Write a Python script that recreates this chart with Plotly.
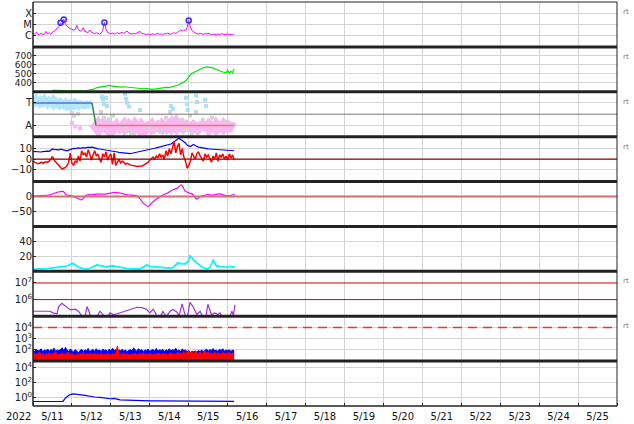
import plotly.graph_objects as go
from plotly.subplots import make_subplots

# ---------------- data (hours since 2022-05-11 00:00 UT) ----------------
day_labels = ["5/11", "5/12", "5/13", "5/14", "5/15", "5/16", "5/17", "5/18",
              "5/19", "5/20", "5/21", "5/22", "5/23", "5/24", "5/25"]

# Panel 1: X-ray flux, log10 (W/m^2), hourly from h0
xray_log = [
    -5.90, -5.85, -5.70, -5.88, -5.92, -5.78, -5.90, -5.86, -5.62, -5.85,
    -5.74, -5.88, -5.70, -5.60, -5.50, -5.30, -5.20, -4.85, -5.05, -4.55,
    -4.95, -5.15, -5.30, -5.35, -5.42, -5.50, -5.45, -5.08, -5.48, -5.60,
    -5.55, -5.30, -5.62, -5.66, -5.72, -5.50, -5.70, -5.76, -5.82, -5.74,
    -5.80, -5.86, -5.78, -5.55, -4.82, -5.45, -5.72, -5.80, -5.84, -5.78,
    -5.86, -5.80, -5.74, -5.82, -5.78, -5.70, -5.80, -5.72, -5.58, -5.74,
    -5.82, -5.86, -5.80, -5.84, -5.76, -5.72, -5.62, -5.78, -5.84, -5.88,
    -5.90, -5.86, -5.92, -5.88, -5.84, -5.90, -5.86, -5.80, -5.88, -5.84,
    -5.90, -5.82, -5.86, -5.78, -5.84, -5.88, -5.80, -5.74, -5.82, -5.70,
    -5.62, -5.50, -5.60, -5.45, -5.58, -5.30, -4.64, -5.25, -5.55, -5.68,
    -5.76, -5.82, -5.86, -5.80, -5.84, -5.88, -5.82, -5.86, -5.78, -5.84,
    -5.90, -5.86, -5.88, -5.92, -5.86, -5.90, -5.84, -5.88, -5.92, -5.90,
    -5.86, -5.90, -5.88, -5.92, -5.90]
flare_h = [17, 19, 44, 96]
flare_log = [-4.85, -4.55, -4.82, -4.64]

# Panel 2: solar wind speed (km/s)
speed_h = [12, 14, 15, 17, 19, 21, 24, 27, 30, 33,
           35, 37, 39, 41, 43, 45, 47, 48, 50, 52,
           54, 56, 58, 60, 62, 64, 66, 68, 70, 72,
           74, 76, 78, 80, 82, 84, 86, 88, 89, 90,
           92, 94, 95, 96, 97, 99, 101, 103, 105, 107,
           109, 111, 113, 115, 117, 119, 120, 121, 122, 123, 124]
speed = [318, 315, 320, 312, 314, 310, 312, 308, 311, 314,
         318, 326, 344, 352, 356, 362, 372, 366, 360, 356,
         352, 356, 352, 346, 340, 336, 330, 334, 336, 330,
         326, 332, 340, 345, 350, 346, 356, 362, 372, 382,
         400, 420, 440, 470, 490, 515, 535, 555, 568, 578,
         575, 566, 548, 532, 520, 512, 540, 505, 530, 510, 558]

# Panel 3: IMF sector (T = +0.5, A = -0.5)
toward_band = [0.62, 0.55, 0.66, 0.58, 0.50, 0.60, 0.54, 0.64, 0.56, 0.48,
               0.58, 0.52, 0.60, 0.46, 0.55, 0.50, 0.42, 0.52, 0.45, 0.40,
               0.48, 0.38, 0.44, 0.36, 0.46, 0.40, 0.50, 0.44, 0.38, 0.46,
               0.42, 0.48, 0.40, 0.44, 0.38, 0.42, 0.40]
away_start_h = 37
away_band = [-0.40, -0.50, -0.58, -0.48, -0.62, -0.52, -0.45, -0.60, -0.55, -0.66,
             -0.50, -0.58, -0.44, -0.62, -0.54, -0.68, -0.50, -0.60, -0.56, -0.48,
             -0.62, -0.55, -0.70, -0.52, -0.58, -0.64, -0.50, -0.60, -0.56, -0.66,
             -0.52, -0.60, -0.48, -0.62, -0.55, -0.58, -0.50, -0.64, -0.56, -0.60,
             -0.52, -0.58, -0.62, -0.48, -0.56, -0.60, -0.50, -0.45, -0.55, -0.42,
             -0.50, -0.40, -0.55, -0.46, -0.52, -0.58, -0.44, -0.62, -0.50, -0.56,
             -0.48, -0.60, -0.52, -0.58, -0.46, -0.62, -0.54, -0.50, -0.60, -0.56,
             -0.52, -0.62, -0.48, -0.58, -0.55, -0.64, -0.50, -0.60, -0.54, -0.58,
             -0.50, -0.62, -0.56, -0.52, -0.60, -0.55, -0.58, -0.62]
toward_dots_h = [42.5, 43.2, 43.8, 45, 45.6, 56.7, 57.3, 58, 59.2, 66, 85, 86.3,
                 94.3, 94.9, 95.5, 100.5, 101.1, 106, 106.7]
toward_dots_v = [0.78, 0.64, 0.46, 0.73, 0.37, 0.91, 0.69, 0.51, 0.33, 0.19, 0.37, 0.24,
                 0.73, 0.46, 0.19, 0.82, 0.55, 0.64, 0.37]
gray_dots_h = [24, 25.3, 27.7, 41.9, 43.8, 47.5, 49.3, 56.1, 58, 60.4, 72.1, 78.3,
               82, 84.5, 91.9, 94.3, 96.8, 98, 100.5, 104.8, 110.4, 119]
gray_dots_v = [0.06, -0.07, 0.02, 0.10, -0.16, -0.25, -0.07, -0.52, -0.74, -0.88, -0.61, -0.79,
               -0.16, 0.10, -0.25, -0.70, -0.07, -0.88, 0.10, -0.25, -0.16, -0.34]
away_dots_h = [24, 26, 29]
away_dots_v = [-0.39, -0.55, -0.62]
sector_h = [0, 36.4, 38.8, 124]
sector_v = [0.5, 0.5, -0.5, -0.5]

# Panel 4: IMF Bt (blue) and Bz (red), nT, hourly
bt = [7.4, 7.2, 7.0, 7.3, 7.0, 6.8, 7.2, 7.5, 7.3, 7.6,
      7.5, 8.5, 9.7, 9.4, 9.0, 9.2, 8.8, 9.5, 9.0, 8.6,
      8.2, 8.0, 8.6, 9.2, 9.8, 10.2, 10.0, 10.5, 10.7, 10.3,
      10.8, 11.0, 10.6, 11.2, 11.5, 11.0, 11.5, 11.2, 10.5, 10.0,
      9.8, 9.7, 9.5, 9.2, 8.8, 8.5, 8.2, 8.0, 7.8, 7.6,
      7.3, 7.0, 6.8, 6.5, 6.3, 6.0, 5.8, 5.6, 5.5, 5.4,
      5.3, 5.6, 5.9, 6.3, 6.6, 6.8, 7.0, 7.4, 7.8, 8.2,
      8.6, 8.8, 9.0, 9.5, 10.0, 10.4, 10.8, 11.2, 11.6, 12.0,
      12.4, 12.8, 13.2, 13.5, 13.8, 14.5, 15.5, 17.0, 18.0, 19.0,
      20.0, 19.0, 17.5, 16.5, 15.5, 13.5, 12.5, 12.0, 13.0, 14.0,
      13.0, 12.0, 11.5, 11.2, 10.8, 10.5, 10.2, 10.0, 9.8, 9.7,
      9.6, 9.5, 9.3, 9.2, 9.1, 9.0, 8.8, 8.9, 8.6, 8.7,
      8.5, 8.4, 8.3, 8.2, 8.0]
bz = [-2, -3, -4, -4.5, -4, -3, -4, -3, -2.5, -3,
      -2, 0, 2.5, -1, -3, -5, -7, -8, -9.5, -9,
      -8, -6, -3, 5.8, -4, -6, -2, -3, 3, -2,
      8, 4, 6, 2, 9, 5, -1, 4, 8, 3,
      5, 0, -3, 5, 2, 7, -1, 3, 5, -5,
      6, -6, -2, 0, -4, -2, -3, -5, -4, -5,
      -5.5, -6, -6, -6.5, -7, -7, -7, -6.5, -6, -5,
      -4, -3, -1, 1, 2, 0, 3, 1, 5, 2,
      4, 0, 8, 3, 10, 5, 12, 17, 6, 12,
      15, 4, 10, 2, -2, -8.6, -6, -2, 6, 3,
      0, 5, 7, 3, 0, -2, 5, 2, 4, 0,
      -3, 3, 0, 6, -2, 4, 2, 5, 0, 3,
      -1, 5, 1, 4, -1]

# Panel 5: Dst-like index (nT)
dst_h = [0, 5, 10.5, 14.8, 18.5, 20.5, 24, 27, 30, 33,
         36, 39.5, 45.6, 50.5, 54, 58, 64, 66, 68, 71,
         74, 77, 80, 83, 86, 89, 91.6, 93.7, 96.8, 98.6,
         101, 103, 107, 111, 115, 119.6, 123.3, 124.5]
dst = [2, 3, 6, 14, 17, 6, 2, -5, -11, 5,
       6, 8, 9, 14, 11, 6, 2, -8, -22, -33,
       -17, -5, 5, 12, 22, 28, 39, 19, 11, 6,
       -9, 0, 6, 5, 9, 2, 6, 5]

# Panel 6: proton density (/cc), two channels
dens_h = [0, 3, 6, 9, 12, 15, 18.5, 21, 22.8, 24,
          25.5, 27, 29, 31, 33, 35, 37, 39.5, 41, 43,
          45.6, 47, 49, 51, 54, 56, 58, 62, 66, 68,
          70, 72, 74, 76, 79, 82.6, 86, 87.5, 89, 91,
          93, 94, 95.5, 96.8, 98, 99, 101, 103, 105, 107,
          109, 111, 112, 113, 115, 117.6, 119.5, 121.4, 123.3, 124.5]
dens_a = [3.1, 3.5, 3.0, 3.8, 4.9, 5.5, 6.2, 7.5, 9.3, 11.6,
          10, 8, 4.9, 4.2, 3.6, 4.5, 6.5, 9.3, 8, 7,
          6.2, 7.5, 8, 7, 5.8, 5, 4, 3.8, 3.6, 6,
          9.3, 7, 6.5, 6.2, 5.5, 4.9, 4.9, 8, 11.6, 11,
          10.5, 10.7, 14, 21.3, 19, 16, 12, 8, 5, 3.6,
          5, 16, 12, 8, 7, 6.2, 5.5, 7, 6.2, 6.8]
dens_b = [2.6, 3.0, 2.7, 3.2, 4.2, 5.0, 5.6, 6.8, 8.4, 10.2,
          9.0, 7.0, 4.2, 3.6, 3.1, 3.9, 5.8, 8.2, 7.2, 6.2,
          5.4, 6.6, 7.0, 6.2, 5.0, 4.4, 3.5, 3.2, 3.1, 5.2,
          8.2, 6.2, 5.6, 5.4, 4.8, 4.2, 4.2, 7.0, 10.4, 9.8,
          9.4, 9.5, 12.5, 19.0, 17.2, 14.5, 10.8, 7.0, 4.4, 3.1,
          4.4, 14.4, 10.6, 7.0, 6.2, 5.4, 4.8, 6.2, 5.4, 6.0]

# Panel 7: >2 MeV electron flux, log10
elec_h = [0, 4, 8, 10.5, 12.3, 14.8, 15.8, 17.8, 19.9, 21.5,
          23, 26, 28, 30, 31.5, 32.3, 33.3, 34.5, 36, 39,
          41.3, 43.5, 45.5, 47.5, 49.5, 52, 53.6, 56, 58, 60,
          62, 64, 67, 70, 72, 74, 75.5, 76.4, 78.5, 80,
          82, 82.6, 84.5, 86.3, 88.8, 90, 91.9, 93.7, 95, 96.8,
          98.6, 101, 103, 105, 106.5, 107.8, 110, 112, 114, 115.3,
          117, 121, 122.6, 123.5, 124.5]
elec_log = [5.30, 5.28, 5.30, 5.30, 5.20, 5.14, 5.58, 5.78, 5.62, 5.50,
            5.38, 5.42, 5.30, 5.04, 4.80, 5.10, 5.58, 5.30, 4.80, 4.90,
            5.30, 5.05, 4.90, 5.20, 5.10, 5.15, 5.20, 5.25, 5.35, 5.42,
            5.48, 5.54, 5.52, 5.42, 5.20, 5.42, 5.20, 4.90, 4.90, 5.30,
            5.00, 5.04, 5.30, 5.40, 5.24, 5.00, 5.74, 5.10, 4.90, 5.84,
            5.58, 5.10, 5.30, 4.90, 4.90, 5.72, 5.10, 5.20, 5.10, 5.20,
            4.90, 4.90, 5.30, 5.05, 5.68]

# Panel 8: proton flux, log10, hourly
prot_blue = [1.98, 1.85, 2.05, 1.90, 1.95, 2.10, 1.82, 2.00, 1.90, 2.08,
             1.88, 2.02, 1.95, 2.15, 1.85, 2.00, 1.92, 2.05, 2.18, 1.90,
             2.22, 2.00, 1.85, 2.08, 1.95, 1.80, 2.02, 1.88, 1.75, 1.95,
             2.05, 1.85, 2.00, 1.92, 2.12, 1.82, 1.98, 2.02, 1.88, 2.10,
             1.90, 2.00, 1.85, 2.05, 1.95, 2.00, 1.84, 2.08, 1.90, 2.15,
             1.95, 2.02, 1.85, 2.00, 1.92, 2.05, 1.88, 2.00, 1.82, 1.96,
             2.02, 1.90, 2.18, 2.00, 1.88, 2.10, 1.95, 2.02, 1.85, 2.00,
             1.92, 2.08, 1.85, 1.98, 2.02, 1.90, 2.12, 1.88, 2.00, 1.95,
             2.05, 1.86, 2.00, 1.92, 2.10, 1.88, 2.02, 1.95, 2.15, 1.90,
             2.00, 1.85, 2.08, 1.95, 2.00, 1.82, 1.95, 1.78, 1.88, 1.84,
             1.90, 1.80, 1.95, 1.85, 2.00, 1.82, 1.92, 2.08, 1.88, 2.02,
             1.95, 2.12, 1.90, 2.00, 1.85, 2.05, 1.95, 2.10, 1.88, 2.00,
             1.92, 2.02, 1.85, 2.00, 1.90]
prot_red = [1.62, 1.72, 1.55, 1.68, 1.80, 1.58, 1.70, 1.50, 1.66, 1.60,
            1.74, 1.56, 1.68, 1.62, 1.85, 1.52, 1.66, 1.58, 1.72, 1.62,
            1.58, 1.70, 1.78, 1.54, 1.66, 1.60, 1.50, 1.64, 1.56, 1.70,
            1.60, 1.76, 1.56, 1.66, 1.58, 1.72, 1.64, 1.54, 1.70, 1.60,
            1.66, 1.54, 1.72, 1.58, 1.64, 1.56, 1.70, 1.60, 1.54, 1.68,
            1.58, 1.72, 2.35, 1.56, 1.64, 1.58, 1.72, 1.54, 1.66, 1.60,
            1.56, 1.64, 1.58, 1.70, 1.54, 1.60, 1.68, 1.56, 1.74, 1.58,
            1.64, 1.56, 1.70, 1.60, 1.54, 1.66, 1.58, 1.72, 1.64, 1.56,
            1.70, 1.60, 1.66, 1.54, 1.64, 1.74, 1.58, 1.66, 1.60, 1.78,
            1.64, 1.74, 1.60, 1.85, 1.68, 1.80, 1.90, 1.72, 1.84, 1.66,
            1.86, 1.74, 1.68, 1.82, 1.66, 1.78, 1.88, 1.70, 1.80, 1.62,
            1.72, 1.66, 1.78, 1.60, 1.74, 1.68, 1.62, 1.78, 1.66, 1.72,
            1.68, 1.78, 1.62, 1.72, 1.66]

# Panel 9: log10
p9_h = [0, 6, 12, 18.5, 20, 21.5, 22.8, 24.9, 26.5, 28.6,
        32, 35, 38, 41.3, 44, 47.5, 50, 53.6, 58, 62,
        67, 72, 77, 82, 87, 93, 98, 103, 108, 113,
        118, 124]
p9_log = [-0.55, -0.52, -0.56, -0.54, -0.08, 0.20, 0.37, 0.46, 0.44, 0.37,
          0.26, 0.14, 0.05, 0.00, -0.08, -0.18, -0.14, -0.32, -0.36, -0.41,
          -0.42, -0.46, -0.47, -0.48, -0.50, -0.55, -0.53, -0.55, -0.54, -0.55,
          -0.53, -0.52]


def days(hours):
    return [h / 24.0 for h in hours]


def hourly(vals, start=0):
    return days([start + i for i in range(len(vals))])


# ---------------- figure ----------------
fig = make_subplots(rows=9, cols=1, shared_xaxes=True, vertical_spacing=0)

# 1 X-ray
fig.add_trace(go.Scatter(x=hourly(xray_log), y=xray_log, mode="lines",
                         line=dict(color="#ff00ff", width=1)), row=1, col=1)
fig.add_trace(go.Scatter(x=days(flare_h), y=flare_log, mode="markers",
                         marker=dict(symbol="circle-open", size=5, color="#3030ff",
                                     line=dict(width=1.5))), row=1, col=1)
# 2 speed
fig.add_trace(go.Scatter(x=days(speed_h), y=speed, mode="lines",
                         line=dict(color="#00e600", width=1.2)), row=2, col=1)
# 3 sector
fig.add_trace(go.Scatter(x=hourly(toward_band), y=toward_band, mode="lines",
                         line=dict(color="#b4e6fa", width=8)), row=3, col=1)
fig.add_trace(go.Scatter(x=hourly(away_band, away_start_h), y=away_band, mode="lines",
                         line=dict(color="#f8b8f0", width=10)), row=3, col=1)
fig.add_trace(go.Scatter(x=days(gray_dots_h), y=gray_dots_v, mode="markers",
                         marker=dict(color="#d4d4d4", size=4, symbol="square")), row=3, col=1)
fig.add_trace(go.Scatter(x=days(toward_dots_h), y=toward_dots_v, mode="markers",
                         marker=dict(color="#a8e0f8", size=4, symbol="square")), row=3, col=1)
fig.add_trace(go.Scatter(x=days(away_dots_h), y=away_dots_v, mode="markers",
                         marker=dict(color="#f8b8f0", size=4, symbol="square")), row=3, col=1)
fig.add_trace(go.Scatter(x=days(sector_h[0:2]), y=sector_v[0:2], mode="lines",
                         line=dict(color="#4f6fd8", width=1.5)), row=3, col=1)
fig.add_trace(go.Scatter(x=days(sector_h[1:3]), y=sector_v[1:3], mode="lines",
                         line=dict(color="#2e8b3e", width=1.5)), row=3, col=1)
fig.add_trace(go.Scatter(x=days(sector_h[2:4]), y=sector_v[2:4], mode="lines",
                         line=dict(color="#ff6b6b", width=1.5)), row=3, col=1)
# 4 IMF
fig.add_trace(go.Scatter(x=hourly(bt), y=bt, mode="lines",
                         line=dict(color="#0000ff", width=1.2)), row=4, col=1)
fig.add_trace(go.Scatter(x=hourly(bz), y=bz, mode="lines",
                         line=dict(color="#ff0000", width=1.5)), row=4, col=1)
# 5 Dst
fig.add_trace(go.Scatter(x=days(dst_h), y=dst, mode="lines",
                         line=dict(color="#ff00ff", width=1.2, shape="spline")), row=5, col=1)
# 6 density
fig.add_trace(go.Scatter(x=days(dens_h), y=dens_b, mode="lines",
                         line=dict(color="#00f0f0", width=1.2)), row=6, col=1)
fig.add_trace(go.Scatter(x=days(dens_h), y=dens_a, mode="lines",
                         line=dict(color="#00ffff", width=1.2)), row=6, col=1)
# 7 electrons
fig.add_trace(go.Scatter(x=days(elec_h), y=elec_log, mode="lines",
                         line=dict(color="#a030d8", width=1.2)), row=7, col=1)
# 8 protons
fig.add_trace(go.Scatter(x=hourly(prot_blue), y=prot_blue, mode="lines", fill="tozeroy",
                         fillcolor="#0000ff", line=dict(color="#0000ff", width=1)), row=8, col=1)
fig.add_trace(go.Scatter(x=hourly(prot_red), y=prot_red, mode="lines", fill="tozeroy",
                         fillcolor="#ff0000", line=dict(color="#ff0000", width=1)), row=8, col=1)
# 9
fig.add_trace(go.Scatter(x=days(p9_h), y=p9_log, mode="lines",
                         line=dict(color="#0000ff", width=1.2)), row=9, col=1)

GRID = "#d4d4d4"

yconf = {
    1: dict(range=[-7, -3], tickvals=[-6, -5, -4], ticktext=["C", "M", "X"], size=10),
    2: dict(range=[300, 800], tickvals=[400, 500, 600, 700],
            ticktext=["400", "500", "600", "700"], size=9),
    3: dict(range=[-1, 1], tickvals=[0.5, -0.5], ticktext=["T", "A"], size=10),
    4: dict(range=[-21.5, 21.5], tickvals=[10, 0, -10], ticktext=["10", "0", "\u221210"], size=10),
    5: dict(range=[-100, 50], tickvals=[0, -50], ticktext=["0", "\u221250"], size=10),
    6: dict(range=[0, 60], tickvals=[20, 40], ticktext=["20", "40"], size=10),
    7: dict(range=[5, 7.7], tickvals=[6, 7], ticktext=["10<sup>6</sup>", "10<sup>7</sup>"], size=10),
    8: dict(range=[1, 5], tickvals=[2, 3, 4],
            ticktext=["10<sup>2</sup>", "10<sup>3</sup>", "10<sup>4</sup>"], size=10),
    9: dict(range=[-1.15, 4.85], tickvals=[0, 2, 4],
            ticktext=["10<sup>0</sup>", "10<sup>2</sup>", "10<sup>4</sup>"], size=10),
}
for r, c in yconf.items():
    fig.update_yaxes(row=r, col=1, range=c["range"], tickmode="array",
                     tickvals=c["tickvals"], ticktext=c["ticktext"],
                     showgrid=(r != 7), gridcolor=GRID, gridwidth=1,
                     zeroline=False, ticks="inside", ticklen=3, tickcolor="#222",
                     showline=False, fixedrange=True, automargin=False,
                     tickfont=dict(family="DejaVu Sans", size=c["size"], color="#222"))

fig.update_xaxes(range=[0, 15], tickmode="array",
                 tickvals=[i + 0.5 for i in range(15)], ticktext=day_labels,
                 showgrid=False, zeroline=False, ticks="", showline=False, fixedrange=True,
                 automargin=False,
                 tickfont=dict(family="DejaVu Sans", size=10, color="#111"),
                 minor=dict(tick0=0, dtick=1, showgrid=True, gridcolor=GRID, gridwidth=1))
fig.update_xaxes(row=9, col=1, ticklabelstandoff=3,
                 minor=dict(tick0=0, dtick=1, showgrid=True, gridcolor=GRID,
                            ticks="inside", ticklen=3, tickcolor="#222"))

shapes = []
# reference lines
shapes.append(dict(type="line", xref="paper", x0=0, x1=1, yref="y3", y0=0, y1=0,
                   line=dict(color="#777", width=1)))
shapes.append(dict(type="line", xref="paper", x0=0, x1=1, yref="y4", y0=0, y1=0,
                   line=dict(color="#a00000", width=1.2)))
shapes.append(dict(type="line", xref="paper", x0=0, x1=1, yref="y5", y0=0, y1=0,
                   line=dict(color="#d07070", width=2)))
for lv in (6, 7):
    shapes.append(dict(type="line", xref="paper", x0=0, x1=1, yref="y7", y0=lv, y1=lv,
                       line=dict(color="#cc0000", width=1)))
shapes.append(dict(type="line", xref="paper", x0=0, x1=1, yref="y8", y0=4, y1=4,
                   line=dict(color="#e03a3a", width=1.5, dash="9px,6px")))
# panel frame
for k in range(1, 9):
    shapes.append(dict(type="line", xref="paper", yref="paper", x0=0, x1=1, y0=k / 9, y1=k / 9,
                       line=dict(color="#222", width=3), layer="above"))
shapes.append(dict(type="line", xref="paper", yref="paper", x0=0, x1=1, y0=1, y1=1,
                   line=dict(color="#222", width=1.2), layer="above"))
shapes.append(dict(type="line", xref="paper", yref="paper", x0=0, x1=1, y0=0, y1=0,
                   line=dict(color="#222", width=1.5), layer="above"))
shapes.append(dict(type="line", xref="paper", yref="paper", x0=0, x1=0, y0=0, y1=1,
                   line=dict(color="#222", width=1.5), layer="above"))
shapes.append(dict(type="line", xref="paper", yref="paper", x0=1, x1=1, y0=0, y1=1,
                   line=dict(color="#222", width=1), layer="above"))

annotations = [dict(text="2022", xref="paper", yref="paper", x=-0.025, y=-0.027,
                    xanchor="center", yanchor="middle", showarrow=False,
                    font=dict(family="DejaVu Sans", size=10, color="#111"))]
for r in (1, 2, 3, 4, 7, 8):
    annotations.append(dict(text="rt", xref="paper", yref=f"y{'' if r == 1 else r} domain",
                            x=1.007, y=0.78, xanchor="left", yanchor="middle",
                            showarrow=False, font=dict(family="DejaVu Sans", size=7, color="#777")))

fig.update_layout(width=634, height=424, margin=dict(l=33, r=17, t=2, b=18, autoexpand=False),
                  paper_bgcolor="white", plot_bgcolor="white", showlegend=False,
                  hovermode=False, shapes=shapes, annotations=annotations)

fig.write_html("out.html", config={"displayModeBar": False},
               post_script="document.body.style.margin='0';document.body.style.padding='0';")
